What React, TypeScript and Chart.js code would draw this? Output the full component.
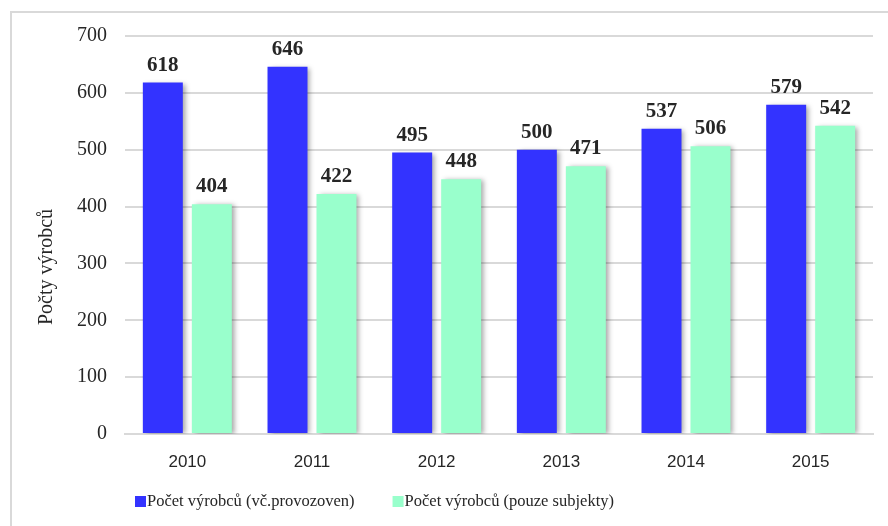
import React, { useEffect, useRef } from "react";
import { Chart, registerables } from "chart.js";

Chart.register(...registerables);

const categories = ["2010", "2011", "2012", "2013", "2014", "2015"];
const seriesVcProvozoven = [618, 646, 495, 500, 537, 579];
const seriesPouzeSubjekty = [404, 422, 448, 471, 506, 542];
const seriesLabels = ["Počet výrobců (vč.provozoven)", "Počet výrobců (pouze subjekty)"];
const yAxisTitle = "Počty výrobců";
const yTicks = [0, 100, 200, 300, 400, 500, 600, 700];

const BLUE = "#3333FF";
const GREEN = "#99FFCC";
const GRID = "#d9d9d9";
const TEXT = "#262626";
const SERIF = "'Liberation Serif', 'Times New Roman', serif";
const SANS = "'Liberation Sans', Arial, sans-serif";

const decorPlugin = {
  id: "decor",
  beforeDatasetsDraw(chart: any) {
    const ctx = chart.ctx;
    ctx.save();
    ctx.shadowColor = "rgba(0,0,0,0.35)";
    ctx.shadowBlur = 5;
    ctx.shadowOffsetX = 3;
    ctx.shadowOffsetY = 1;
  },
  afterDatasetsDraw(chart: any) {
    const ctx = chart.ctx;
    ctx.restore();
    // data labels
    ctx.save();
    ctx.fillStyle = TEXT;
    ctx.font = `bold 21px ${SERIF}`;
    ctx.textAlign = "center";
    ctx.textBaseline = "alphabetic";
    chart.data.datasets.forEach((ds: any, di: number) => {
      const meta = chart.getDatasetMeta(di);
      meta.data.forEach((bar: any, i: number) => {
        ctx.fillText(String(ds.data[i]), bar.x, bar.y - 12);
      });
    });
    ctx.restore();
  },
  afterDraw(chart: any) {
    const ctx = chart.ctx;
    ctx.save();
    // outer border
    ctx.strokeStyle = GRID;
    ctx.lineWidth = 2;
    ctx.beginPath();
    ctx.moveTo(11, chart.height);
    ctx.lineTo(11, 12);
    ctx.lineTo(chart.width, 12);
    ctx.stroke();
    // y axis title
    ctx.fillStyle = TEXT;
    ctx.font = `20px ${SERIF}`;
    ctx.textAlign = "center";
    ctx.textBaseline = "middle";
    ctx.translate(47, 267);
    ctx.rotate(-Math.PI / 2);
    ctx.fillText(yAxisTitle, 0, 0);
    ctx.restore();
    // legend
    ctx.save();
    ctx.font = `16.5px ${SERIF}`;
    ctx.textBaseline = "middle";
    ctx.textAlign = "left";
    let x = 135;
    const y = 502;
    chart.data.datasets.forEach((ds: any, di: number) => {
      ctx.fillStyle = ds.backgroundColor;
      ctx.fillRect(x, y - 6, 11, 11);
      ctx.fillStyle = TEXT;
      ctx.fillText(ds.label, x + 12, y);
      x += 12 + ctx.measureText(ds.label).width + 38;
    });
    ctx.restore();
  },
};

export default function App() {
  const ref = useRef<HTMLCanvasElement | null>(null);
  useEffect(() => {
    if (!ref.current) return;
    const chart = new Chart(ref.current, {
      type: "bar",
      data: {
        labels: categories,
        datasets: [
          { label: seriesLabels[0], data: seriesVcProvozoven, backgroundColor: BLUE },
          { label: seriesLabels[1], data: seriesPouzeSubjekty, backgroundColor: GREEN },
        ],
      },
      options: {
        animation: false,
        responsive: true,
        maintainAspectRatio: false,
        layout: { padding: { left: 0, right: 15, top: 36, bottom: 0 } },
        datasets: { bar: { categoryPercentage: 0.786, barPercentage: 0.816 } },
        plugins: { legend: { display: false }, tooltip: { enabled: false } },
        scales: {
          x: {
            grid: { display: false, drawTicks: false },
            border: { display: true, color: GRID, width: 2 },
            ticks: { color: TEXT, font: { family: SANS, size: 17 }, padding: 18 },
            afterFit(scale: any) {
              scale.height = 92;
            },
          },
          y: {
            min: 0,
            max: 700,
            afterBuildTicks(scale: any) {
              scale.ticks = yTicks.map((v) => ({ value: v }));
            },
            grid: { color: GRID, lineWidth: 2, drawTicks: false },
            border: { display: false },
            ticks: { color: TEXT, font: { family: SERIF, size: 20 }, padding: 18 },
            afterFit(scale: any) {
              scale.width = 125;
            },
          },
        },
      },
      plugins: [decorPlugin],
    });
    return () => chart.destroy();
  }, []);
  return (
    <div style={{ position: "absolute", left: 0, top: 0, width: 888, height: 526, background: "#fff" }}>
      <canvas ref={ref} />
    </div>
  );
}
